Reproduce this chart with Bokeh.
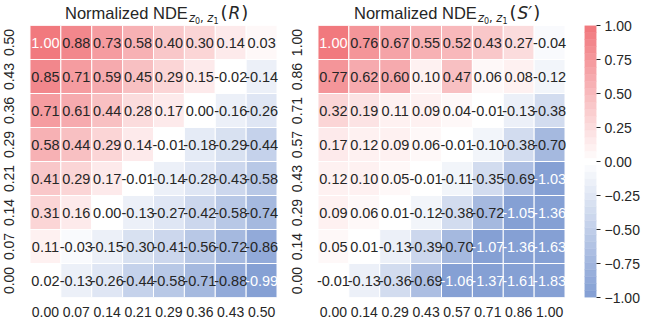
import numpy as np
from bokeh.plotting import figure
from bokeh.models import (ColumnDataSource, LinearColorMapper, FixedTicker,
                          FactorRange, Div, Spacer)
from bokeh.layouts import row, column
from bokeh.embed import file_html
from bokeh.resources import INLINE
from bokeh.core.properties import value

# ---------------- data ----------------
x_labels_r = ["0.00", "0.07", "0.14", "0.21", "0.29", "0.36", "0.43", "0.50"]
y_labels_r = ["0.00", "0.07", "0.14", "0.21", "0.29", "0.36", "0.43", "0.50"]
# rows listed from top (y=0.50) to bottom (y=0.00)
vals_r = [
    [1.00, 0.88, 0.73, 0.58, 0.40, 0.30, 0.14, 0.03],
    [0.85, 0.71, 0.59, 0.45, 0.29, 0.15, -0.02, -0.14],
    [0.71, 0.61, 0.44, 0.28, 0.17, 0.00, -0.16, -0.26],
    [0.58, 0.44, 0.29, 0.14, -0.01, -0.18, -0.29, -0.44],
    [0.41, 0.29, 0.17, -0.01, -0.14, -0.28, -0.43, -0.58],
    [0.31, 0.16, 0.00, -0.13, -0.27, -0.42, -0.58, -0.74],
    [0.11, -0.03, -0.15, -0.30, -0.41, -0.56, -0.72, -0.86],
    [0.02, -0.13, -0.26, -0.44, -0.58, -0.71, -0.88, -0.99],
]
x_labels_s = ["0.00", "0.14", "0.29", "0.43", "0.57", "0.71", "0.86", "1.00"]
y_labels_s = ["0.00", "0.14", "0.29", "0.43", "0.57", "0.71", "0.86", "1.00"]
# rows listed from top (y=1.00) to bottom (y=0.00)
vals_s = [
    [1.00, 0.76, 0.67, 0.55, 0.52, 0.43, 0.27, -0.04],
    [0.77, 0.62, 0.60, 0.10, 0.47, 0.06, 0.08, -0.12],
    [0.32, 0.19, 0.11, 0.09, 0.04, -0.01, -0.13, -0.38],
    [0.17, 0.12, 0.09, 0.06, -0.01, -0.10, -0.38, -0.70],
    [0.12, 0.10, 0.05, -0.01, -0.11, -0.35, -0.69, -1.03],
    [0.09, 0.06, 0.01, -0.12, -0.38, -0.72, -1.05, -1.36],
    [0.05, 0.01, -0.13, -0.39, -0.70, -1.07, -1.36, -1.63],
    [-0.01, -0.13, -0.36, -0.69, -1.06, -1.37, -1.61, -1.83],
]
cbar_ticks = [-1.0, -0.75, -0.5, -0.25, 0.0, 0.25, 0.5, 0.75, 1.0]
cbar_labels = ["\u22121.00", "\u22120.75", "\u22120.50", "\u22120.25", "0.00",
               "0.25", "0.50", "0.75", "1.00"]

# ---------------- styling ----------------
FONT = "Liberation Sans"
TXT = "#262626"
FW, FH = 252, 272
TOP, BOTTOM = 25, 24

neg_end = np.array([133, 160, 212])
pos_end = np.array([241, 121, 126])
center = np.array([255, 255, 255])
N = 39
palette = []
for t in np.linspace(-1, 1, N):
    c = center + ((neg_end - center) * (-t) if t < 0 else (pos_end - center) * t)
    palette.append("#%02x%02x%02x" % tuple(int(round(v)) for v in c))

mapper = LinearColorMapper(palette=palette, low=-1, high=1)


def heatmap(xl, yl, vals, border_left):
    n = len(vals)
    xs, ys, vs, labs, tcs = [], [], [], [], []
    for i, rowv in enumerate(vals):
        for j, v in enumerate(rowv):
            xs.append(xl[j])
            ys.append(yl[n - 1 - i])
            vs.append(v)
            labs.append("%.2f" % v)
            tcs.append("white" if abs(v) >= 0.95 else TXT)
    src = ColumnDataSource(dict(x=xs, y=ys, v=vs, lab=labs, tc=tcs))
    xr = FactorRange(factors=xl, range_padding=0.08, range_padding_units="absolute")
    p = figure(x_range=xr, y_range=yl, frame_width=FW, frame_height=FH,
               output_backend="svg", toolbar_location=None,
               min_border_left=border_left, min_border_right=0,
               min_border_top=0, min_border_bottom=BOTTOM)
    p.title.visible = False
    p.rect(x="x", y="y", width=1, height=1, source=src,
           fill_color={"field": "v", "transform": mapper},
           line_color="white", line_width=1)
    p.text(x="x", y="y", text="lab", source=src, text_align="center",
           text_baseline="middle", text_font=value(FONT),
           text_font_size="14.5px", text_color="tc")
    p.outline_line_color = None
    p.grid.grid_line_color = None
    for ax in (p.xaxis, p.yaxis):
        ax.axis_line_color = None
        ax.major_tick_line_color = None
        ax.minor_tick_line_color = None
        ax.major_label_text_font = FONT
        ax.major_label_text_font_size = "14px"
        ax.major_label_text_color = TXT
    p.xaxis.major_label_standoff = 3
    p.yaxis.major_label_standoff = 8
    p.yaxis.major_label_orientation = "vertical"
    return p


def title_div(sym, left, width):
    z = ("<i style=\"font-size:11.5px\">z</i>"
         "<span style=\"font-size:8px; position:relative; top:2px\">%s</span>")
    html = (
        '<div style="position:relative; top:5px; left:%dpx; white-space:nowrap; '
        "font-family:'Liberation Sans'; font-size:16.5px; line-height:16px; color:%s\">"
        "Normalized NDE"
        "<span style=\"font-family:'DejaVu Sans'; position:relative; top:3px; "
        'margin-left:1px">%s<span style="font-size:11.5px">, </span>%s</span>'
        "<span style=\"font-family:'DejaVu Sans'; font-size:18px; margin-left:2px\">"
        "(<i style=\"font-size:17px; margin:0 1px\">%s</i>)</span></div>"
        % (left, TXT, z % "0", z % "1", sym)
    )
    return Div(text=html, width=width, height=TOP, margin=0)


BL1, BL2 = 22, 36
p1 = heatmap(x_labels_r, y_labels_r, vals_r, BL1)
p2 = heatmap(x_labels_s, y_labels_s, vals_s, BL2)
d1 = title_div("R", BL1 + 43, BL1 + FW)
d2 = title_div("S\u2032", BL2 + 39, BL2 + FW)

# colour bar drawn from the palette
CB_TOP = 9
nb = len(palette)
edges = np.linspace(-1, 1, nb + 1)
cb_src = ColumnDataSource(dict(b=edges[:-1], t=edges[1:], c=palette))
p3 = figure(x_range=(0, 1), y_range=(-1, 1), frame_width=12, frame_height=FH,
            output_backend="svg", toolbar_location=None, y_axis_location="right",
            min_border_left=17, min_border_right=0, min_border_top=CB_TOP,
            min_border_bottom=BOTTOM)
p3.title.visible = False
p3.quad(left=0, right=1, bottom="b", top="t", fill_color="c", line_color="c",
        line_width=0.5, source=cb_src)
p3.xaxis.visible = False
p3.grid.grid_line_color = None
p3.outline_line_color = None
p3.yaxis.ticker = FixedTicker(ticks=cbar_ticks)
p3.yaxis.major_label_overrides = {t: l for t, l in zip(cbar_ticks, cbar_labels)}
p3.yaxis.axis_line_color = None
p3.yaxis.minor_tick_line_color = None
p3.yaxis.major_tick_in = 0
p3.yaxis.major_tick_out = 4
p3.yaxis.major_tick_line_color = TXT
p3.yaxis.major_label_standoff = 4
p3.yaxis.major_label_text_font = FONT
p3.yaxis.major_label_text_font_size = "14px"
p3.yaxis.major_label_text_color = TXT

layout = row(column(d1, p1), column(d2, p2),
             column(Spacer(width=10, height=TOP - CB_TOP), p3))
open("out.html", "w").write(file_html(layout, INLINE))
